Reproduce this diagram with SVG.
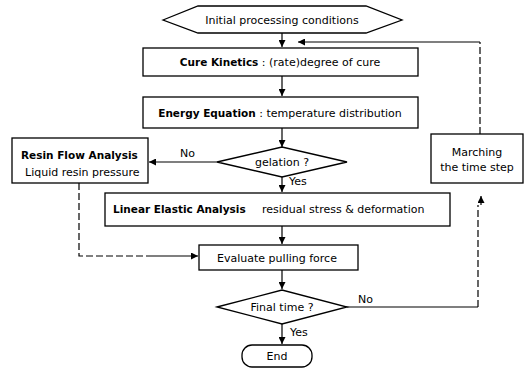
<svg xmlns="http://www.w3.org/2000/svg" width="526" height="370" viewBox="0 0 526 370">
<style>
.box{fill:#fff;stroke:#000;stroke-width:1.3}
.ln{fill:none;stroke:#000;stroke-width:1.2}
.dash{stroke-dasharray:7 3}
text{font-family:"DejaVu Sans","Liberation Sans",Arial,sans-serif;font-size:11px;fill:#000}
.b{font-weight:bold;font-size:10.5px}
.m{text-anchor:middle}
</style>
<defs>
<marker id="ah" viewBox="0 0 10 10" refX="10" refY="5" markerWidth="8" markerHeight="7" orient="auto" markerUnits="userSpaceOnUse"><path d="M0,0 L10,5 L0,10 z" fill="#000"/></marker>
</defs>
<rect width="526" height="370" fill="#fff"/>
<g id="connectors">
<line class="ln" x1="282" y1="33" x2="282" y2="47" marker-end="url(#ah)"/>
<line class="ln" x1="282" y1="76" x2="282" y2="96" marker-end="url(#ah)"/>
<line class="ln" x1="282" y1="128" x2="282" y2="147" marker-end="url(#ah)"/>
<line class="ln" x1="217" y1="162" x2="149" y2="162" marker-end="url(#ah)"/>
<text x="180" y="157">No</text>
<line class="ln" x1="282" y1="177" x2="282" y2="192" marker-end="url(#ah)"/>
<text x="289" y="185">Yes</text>
<line class="ln" x1="282" y1="226" x2="282" y2="244" marker-end="url(#ah)"/>
<path class="ln dash" d="M79,183 V256 H150"/>
<line class="ln" x1="150" y1="256" x2="198" y2="256" marker-end="url(#ah)"/>
<line class="ln" x1="282" y1="270" x2="282" y2="289" marker-end="url(#ah)"/>
<line class="ln" x1="282" y1="324" x2="282" y2="344" marker-end="url(#ah)"/>
<text x="290" y="336">Yes</text>
<path class="ln" d="M347,307 H478"/>
<text x="358" y="303">No</text>
<path class="ln dash" d="M478,307 V205"/>
<line class="ln" x1="481" y1="205" x2="481" y2="196" marker-end="url(#ah)"/>
<path class="ln dash" d="M480,134 V42"/>
<line class="ln" x1="480" y1="42" x2="298" y2="42" marker-end="url(#ah)"/>
</g>
<g id="n-initial">
<polygon class="box" points="163,20 198,6 366,6 402,20 366,33 198,33"/>
<text class="m" x="282" y="24">Initial processing conditions</text>
</g>
<g id="n-cure">
<rect class="box" x="143" y="48" width="275" height="28"/>
<text class="m" x="280" y="66"><tspan class="b">Cure Kinetics</tspan> : (rate)degree of cure</text>
</g>
<g id="n-energy">
<rect class="box" x="143" y="97" width="275" height="31"/>
<text class="m" x="280" y="117"><tspan class="b">Energy Equation</tspan> : temperature distribution</text>
</g>
<g id="n-gelation">
<polygon class="box" points="217,162 282,147 347,162 282,177"/>
<text class="m" x="282" y="166">gelation ?</text>
</g>
<g id="n-resin">
<rect class="box" x="12" y="138" width="136" height="45"/>
<text class="b" x="21" y="159">Resin Flow Analysis</text>
<text x="25" y="176">Liquid resin pressure</text>
</g>
<g id="n-marching">
<rect class="box" x="431" y="134" width="92" height="49"/>
<text class="m" x="477" y="156">Marching</text>
<text class="m" x="477" y="171">the time step</text>
</g>
<g id="n-linear">
<rect class="box" x="105" y="193" width="345" height="33"/>
<text x="113" y="213"><tspan class="b">Linear Elastic Analysis</tspan><tspan x="262">residual stress &amp; deformation</tspan></text>
</g>
<g id="n-evaluate">
<rect class="box" x="199" y="245" width="159" height="25"/>
<text class="m" x="277" y="262">Evaluate pulling force</text>
</g>
<g id="n-final">
<polygon class="box" points="217,307 282,290 347,307 282,324"/>
<text class="m" x="282" y="311">Final time ?</text>
</g>
<g id="n-end">
<rect class="box" x="242" y="345" width="70" height="22" rx="10"/>
<text class="m" x="277" y="360">End</text>
</g>
</svg>
